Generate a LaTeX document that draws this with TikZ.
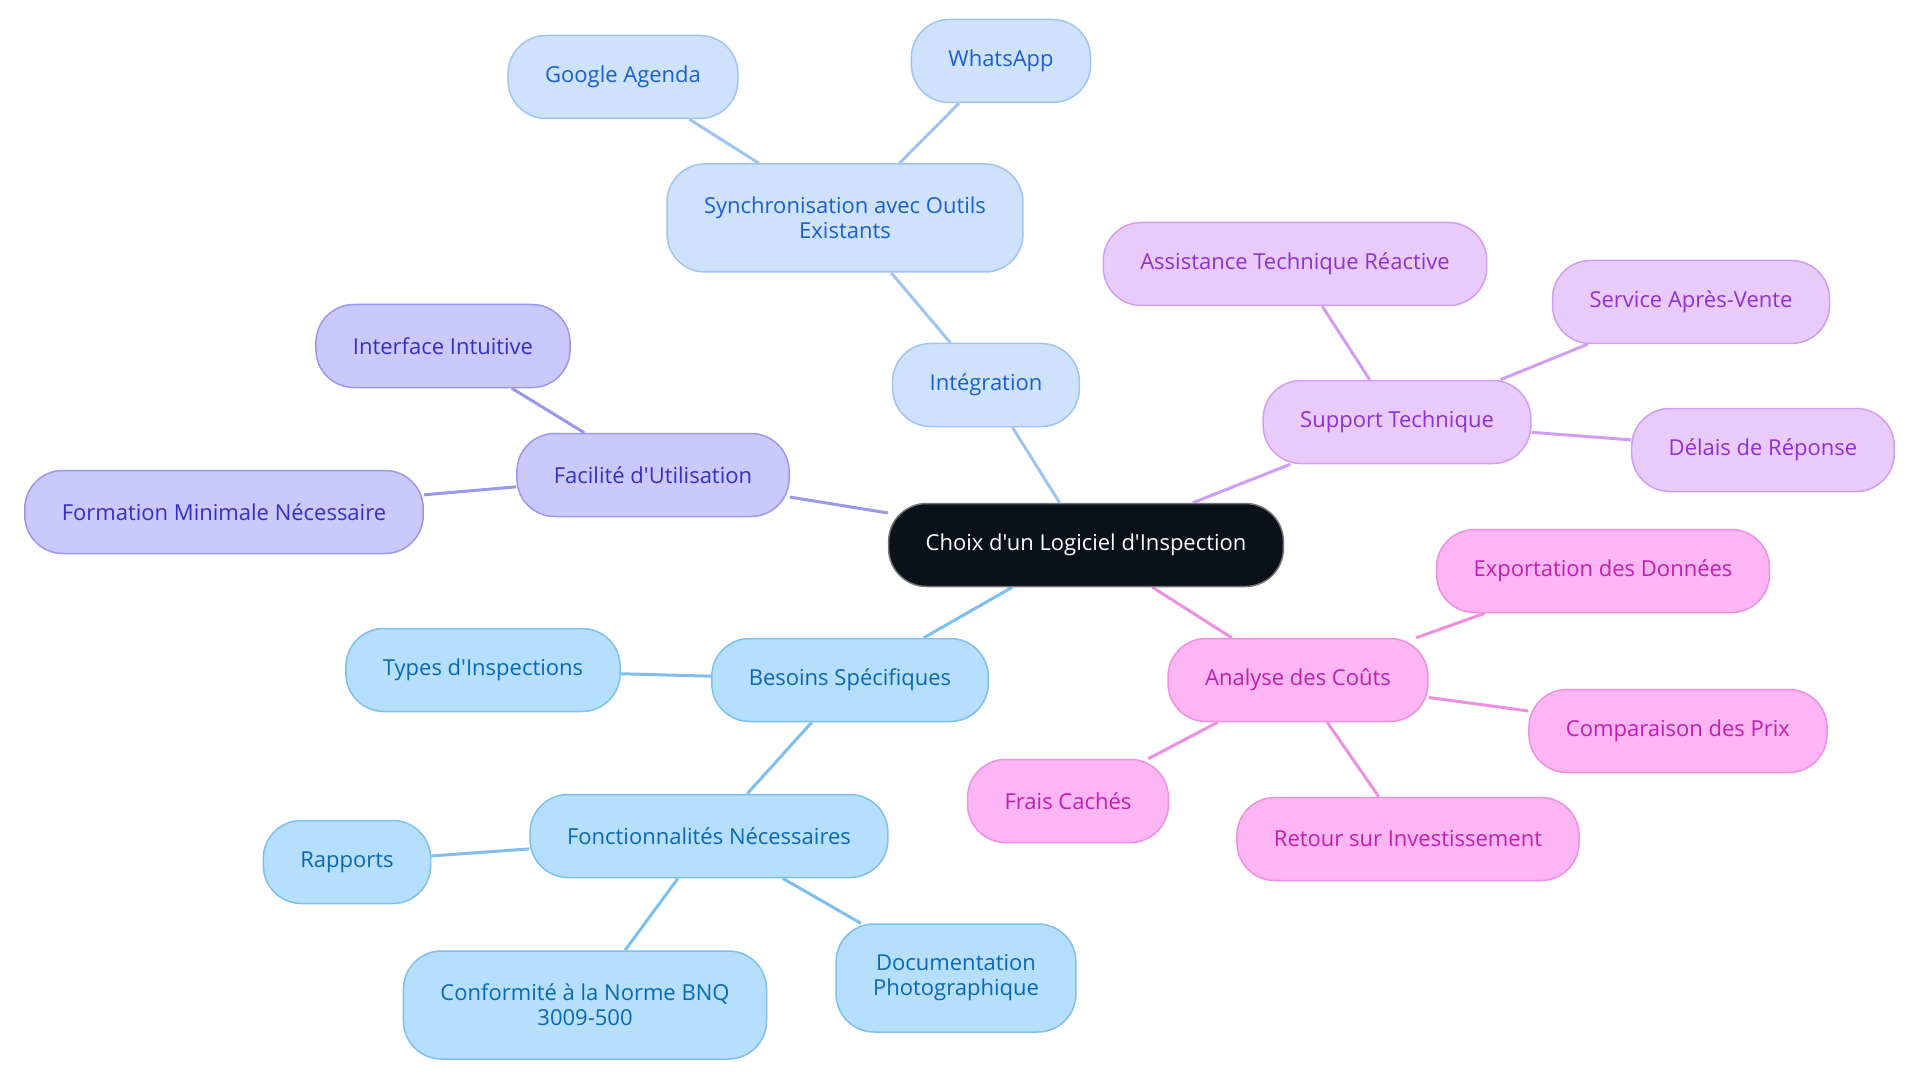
\documentclass[tikz,border=0pt]{standalone}
\usepackage{fontspec}
\setmainfont{Open Sans}[Ligatures=TeXOff]
\usepackage{xcolor}
\usepackage{tikz}
\usetikzlibrary{backgrounds}

\definecolor{rootfill}{HTML}{0B111B}
\definecolor{intfill}{HTML}{CFE2FB}
\definecolor{intdraw}{HTML}{9EC5F2}
\definecolor{inttext}{HTML}{1A5FCC}
\definecolor{supfill}{HTML}{E8CBFB}
\definecolor{supdraw}{HTML}{CF9EF3}
\definecolor{suptext}{HTML}{9030CF}
\definecolor{facfill}{HTML}{CBC9FB}
\definecolor{facdraw}{HTML}{9A97EF}
\definecolor{factext}{HTML}{3530C0}
\definecolor{besfill}{HTML}{B5DFFD}
\definecolor{besdraw}{HTML}{7EBFEF}
\definecolor{bestext}{HTML}{0A68B2}
\definecolor{anafill}{HTML}{FDB5F3}
\definecolor{anadraw}{HTML}{EF8FE0}
\definecolor{anatext}{HTML}{C020B0}

\begin{document}
\begin{tikzpicture}[x=1pt,y=-1pt]
		\tikzstyle{topic}=[rounded corners=38pt, line width=1.5pt, minimum height=83pt, inner xsep=37pt, align=center, font=\fontsize{22}{25}\selectfont]
		\tikzstyle{root}=[topic, fill=rootfill, draw=black!55, text=white]
		\tikzstyle{int_node}=[topic, fill=intfill, draw=intdraw, text=inttext]
		\tikzstyle{sup_node}=[topic, fill=supfill, draw=supdraw, text=suptext]
		\tikzstyle{fac_node}=[topic, fill=facfill, draw=facdraw, text=factext]
		\tikzstyle{bes_node}=[topic, fill=besfill, draw=besdraw, text=bestext]
		\tikzstyle{ana_node}=[topic, fill=anafill, draw=anadraw, text=anatext]
		\tikzstyle{two_lines}=[minimum height=108pt]
		\tikzstyle{link}=[line width=3pt]

		\useasboundingbox (0,0) rectangle (1920,1083);

		\node [root] (choix) at (1086,545) {Choix d'un Logiciel d'Inspection};

		% Intégration
		\node [int_node] (integ) at (986,385) {Intégration};
		\node [int_node, two_lines] (sync) at (845,218) {Synchronisation avec Outils\\Existants};
		\node [int_node] (agenda) at (623,77) {Google Agenda};
		\node [int_node] (whatsapp) at (1001,61) {WhatsApp};

		% Support Technique
		\node [sup_node] (support) at (1397,422) {Support Technique};
		\node [sup_node] (assist) at (1295,264) {Assistance Technique Réactive};
		\node [sup_node] (sav) at (1691,302) {Service Après-Vente};
		\node [sup_node] (delais) at (1763,450) {Délais de Réponse};

		% Facilité d'Utilisation
		\node [fac_node] (facilite) at (653,475) {Facilité d'Utilisation};
		\node [fac_node] (interface) at (443,346) {Interface Intuitive};
		\node [fac_node] (formation) at (224,512) {Formation Minimale Nécessaire};

		% Besoins Spécifiques
		\node [bes_node] (besoins) at (850,680) {Besoins Spécifiques};
		\node [bes_node] (types) at (483,670) {Types d'Inspections};
		\node [bes_node] (fonctions) at (709,836) {Fonctionnalités Nécessaires};
		\node [bes_node] (rapports) at (347,862) {Rapports};
		\node [bes_node, two_lines] (norme) at (585,1005) {Conformité à la Norme BNQ\\3009-500};
		\node [bes_node, two_lines] (photo) at (956,978) {Documentation\\Photographique};

		% Analyse des Coûts
		\node [ana_node] (analyse) at (1298,680) {Analyse des Coûts};
		\node [ana_node] (export) at (1603,571) {Exportation des Données};
		\node [ana_node] (prix) at (1678,731) {Comparaison des Prix};
		\node [ana_node] (frais) at (1068,801) {Frais Cachés};
		\node [ana_node] (retour) at (1408,839) {Retour sur Investissement};

		\begin{scope}[on background layer]
			\draw [link, draw=intdraw] (choix) -- (integ) (integ) -- (sync) (sync) -- (agenda) (sync) -- (whatsapp);
			\draw [link, draw=supdraw] (choix) -- (support) (support) -- (assist) (support) -- (sav) (support) -- (delais);
			\draw [link, draw=facdraw] (choix) -- (facilite) (facilite) -- (interface) (facilite) -- (formation);
			\draw [link, draw=besdraw] (choix) -- (besoins) (besoins) -- (types) (besoins) -- (fonctions)
				(fonctions) -- (rapports) (fonctions) -- (norme) (fonctions) -- (photo);
			\draw [link, draw=anadraw] (choix) -- (analyse) (analyse) -- (export) (analyse) -- (prix)
				(analyse) -- (frais) (analyse) -- (retour);
		\end{scope}
	\end{tikzpicture}
\end{document}
